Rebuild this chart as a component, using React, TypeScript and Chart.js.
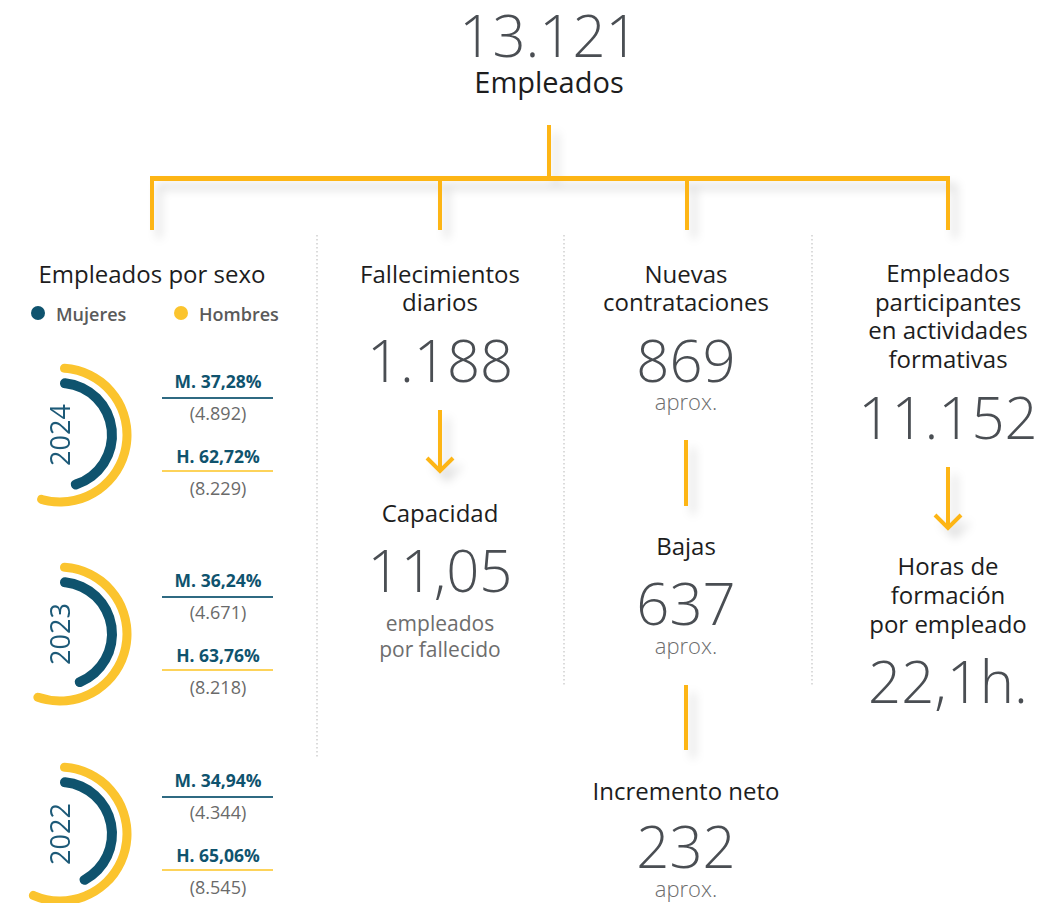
import React, { useEffect, useRef } from 'react';
import { Chart, registerables } from 'chart.js';
Chart.register(...registerables);

// ---- Data ----
const YEARS = ['2024', '2023', '2022'];
const MUJERES_PCT = [37.28, 36.24, 34.94];
const HOMBRES_PCT = [62.72, 63.76, 65.06];
const MUJERES_N = ['4.892', '4.671', '4.344'];
const HOMBRES_N = ['8.229', '8.218', '8.545'];
const MUJERES_DIAL_MAX = 80;
const HOMBRES_DIAL_MAX = 113;

const TOTAL_EMPLEADOS = '13.121';
const FALLECIMIENTOS = '1.188';
const CAPACIDAD = '11,05';
const NUEVAS = '869';
const BAJAS = '637';
const INCREMENTO = '232';
const PARTICIPANTES = '11.152';
const HORAS = '22,1h.';

// ---- Styles ----
const FONT = "'Open Sans', 'Noto Sans', sans-serif";
const TEAL = '#0f536e';
const DONUT_YELLOW = '#fbc42e';
const LINE_YELLOW = '#fdb515';
const LABEL = '#1d1d1d';
const NUM = '#4a4e53';
const SUB = '#6d6d6d';
const YEAR_CY = [435, 634, 834];

const fmtPct = (v: number) => v.toFixed(2).replace('.', ',') + '%';

function T({ x, base, size, weight = 400, color = LABEL, children, w = 360, align = 'center', lhf = 1.15 }: any) {
  const lh = Math.round(size * lhf);
  const top = base - (lh / 2 + 0.388 * size);
  const left = align === 'center' ? x - w / 2 : x;
  return (
    <div
      style={{
        position: 'absolute', left, top, width: w, textAlign: align,
        fontSize: size, lineHeight: lh + 'px', fontWeight: weight, color, whiteSpace: 'nowrap',
      }}
    >
      {children}
    </div>
  );
}

function Big({ x, base, children }: any) {
  return (
    <T x={x} base={base} size={58} weight={300} color={NUM} lhf={0.95}>
      {children}
    </T>
  );
}

function Donut({ idx, cy }: { idx: number; cy: number }) {
  const ref = useRef<HTMLCanvasElement | null>(null);
  useEffect(() => {
    const m = MUJERES_PCT[idx];
    const h = HOMBRES_PCT[idx];
    const chart = new Chart(ref.current as HTMLCanvasElement, {
      type: 'doughnut',
      data: {
        labels: ['valor', 'resto'],
        datasets: [
          {
            label: 'Hombres', data: [h, HOMBRES_DIAL_MAX - h],
            backgroundColor: [DONUT_YELLOW, 'rgba(0,0,0,0)'], weight: 9, borderWidth: 0, borderRadius: 6,
          } as any,
          {
            label: 'sep', data: [1], backgroundColor: ['rgba(0,0,0,0)'], weight: 5.5, borderWidth: 0,
          } as any,
          {
            label: 'Mujeres', data: [m, MUJERES_DIAL_MAX - m],
            backgroundColor: [TEAL, 'rgba(0,0,0,0)'], weight: 10, borderWidth: 0, borderRadius: 6,
          } as any,
        ],
      },
      options: {
        responsive: false,
        animation: false,
        devicePixelRatio: 1,
        radius: 71.5,
        cutout: '65.73%',
        rotation: 0,
        circumference: 360,
        events: [],
        layout: { padding: 0 },
        plugins: { legend: { display: false }, tooltip: { enabled: false } },
      } as any,
    });
    return () => chart.destroy();
  }, [idx]);
  return (
    <canvas
      ref={ref}
      width={150}
      height={150}
      style={{ position: 'absolute', left: -15, top: cy - 75, width: 150, height: 150 }}
    />
  );
}

function YearBlock({ idx }: { idx: number }) {
  const cy = YEAR_CY[idx];
  return (
    <>
      <Donut idx={idx} cy={cy} />
      <div
        style={{
          position: 'absolute', left: 60 - 50, top: cy - 17, width: 100, height: 34,
          textAlign: 'center', fontSize: 27, lineHeight: '34px', color: '#1d5a78',
          transform: 'rotate(-90deg)',
        }}
      >
        {YEARS[idx]}
      </div>
      <T x={218} base={cy - 47} size={17.5} weight={700} color={TEAL} w={140}>
        M. {fmtPct(MUJERES_PCT[idx])}
      </T>
      <div style={{ position: 'absolute', left: 162, top: cy - 38, width: 111, height: 1.5, background: '#2f6a82' }} />
      <T x={218} base={cy - 15} size={18} weight={400} color="#6a6a6a" w={140}>
        ({MUJERES_N[idx]})
      </T>
      <T x={218} base={cy + 28} size={17.5} weight={700} color={TEAL} w={140}>
        H. {fmtPct(HOMBRES_PCT[idx])}
      </T>
      <div style={{ position: 'absolute', left: 162, top: cy + 35, width: 111, height: 1.5, background: '#fdd35a' }} />
      <T x={218} base={cy + 60} size={18} weight={400} color="#6a6a6a" w={140}>
        ({HOMBRES_N[idx]})
      </T>
    </>
  );
}

function Connectors() {
  const rects = [
    [547, 125, 4, 54],
    [150, 176, 800, 5],
    [150, 176, 4, 54],
    [438, 176, 4, 54],
    [685, 176, 4, 54],
    [946, 176, 4, 54],
    [684, 440, 4, 66],
    [684, 685, 4, 65],
  ];
  return (
    <svg
      width={1043}
      height={903}
      style={{ position: 'absolute', left: 0, top: 0 }}
    >
      <g stroke="#cfcfcf" strokeWidth={1.5} strokeDasharray="1.5 2.5">
        <line x1={317} y1={235} x2={317} y2={757} />
        <line x1={564} y1={235} x2={564} y2={686} />
        <line x1={812} y1={235} x2={812} y2={686} />
      </g>
      <g style={{ filter: 'drop-shadow(7px 8px 5px rgba(0,0,0,0.15))' }}>
        {rects.map((r, i) => (
          <rect key={i} x={r[0]} y={r[1]} width={r[2]} height={r[3]} fill={LINE_YELLOW} />
        ))}
        <g stroke={LINE_YELLOW} strokeWidth={4} fill="none">
          <line x1={440} y1={410} x2={440} y2={471} />
          <polyline points="427,458 440,471 453,458" />
          <line x1={948} y1={467} x2={948} y2={528} />
          <polyline points="935,515 948,528 961,515" />
        </g>
      </g>
    </svg>
  );
}

export default function App() {
  return (
    <div
      style={{
        position: 'absolute', left: 0, top: 0, width: 1043, height: 903, overflow: 'hidden',
        background: '#ffffff', fontFamily: FONT,
      }}
    >
      <Connectors />

      {/* Title */}
      <Big x={549} base={57}>{TOTAL_EMPLEADOS}</Big>
      <T x={549} base={93} size={29}>Empleados</T>

      {/* Column 1 */}
      <T x={152} base={283} size={24} w={300}>Empleados por sexo</T>
      <div style={{ position: 'absolute', left: 31, top: 306, width: 14, height: 14, borderRadius: 7, background: TEAL }} />
      <T x={56} base={321} size={18} weight={600} color="#5a5a5a" w={100} align="left">Mujeres</T>
      <div style={{ position: 'absolute', left: 174, top: 306, width: 14, height: 14, borderRadius: 7, background: DONUT_YELLOW }} />
      <T x={199} base={321} size={18} weight={600} color="#5a5a5a" w={100} align="left">Hombres</T>
      {YEARS.map((_, i) => (
        <YearBlock key={i} idx={i} />
      ))}

      {/* Column 2 */}
      <T x={440} base={283} size={24}>Fallecimientos</T>
      <T x={440} base={311} size={24}>diarios</T>
      <Big x={440} base={382}>{FALLECIMIENTOS}</Big>
      <T x={440} base={522} size={24}>Capacidad</T>
      <Big x={440} base={592}>{CAPACIDAD}</Big>
      <T x={440} base={632} size={21} weight={400} color={SUB} lhf={1.1}>empleados</T>
      <T x={440} base={658} size={21} weight={400} color={SUB} lhf={1.1}>por fallecido</T>

      {/* Column 3 */}
      <T x={686} base={283} size={24}>Nuevas</T>
      <T x={686} base={311} size={24}>contrataciones</T>
      <Big x={686} base={382}>{NUEVAS}</Big>
      <T x={686} base={410} size={22} weight={300} color={SUB} lhf={1}>aprox.</T>
      <T x={686} base={555} size={24}>Bajas</T>
      <Big x={686} base={625}>{BAJAS}</Big>
      <T x={686} base={654} size={22} weight={300} color={SUB} lhf={1}>aprox.</T>
      <T x={686} base={800} size={24}>Incremento neto</T>
      <Big x={686} base={868}>{INCREMENTO}</Big>
      <T x={686} base={897} size={22} weight={300} color={SUB} lhf={1}>aprox.</T>

      {/* Column 4 */}
      <T x={948} base={282} size={24}>Empleados</T>
      <T x={948} base={311} size={24}>participantes</T>
      <T x={948} base={339} size={24}>en actividades</T>
      <T x={948} base={368} size={24}>formativas</T>
      <Big x={948} base={439}>{PARTICIPANTES}</Big>
      <T x={948} base={575} size={24}>Horas de</T>
      <T x={948} base={604} size={24}>formación</T>
      <T x={948} base={633} size={24}>por empleado</T>
      <Big x={948} base={703}>{HORAS}</Big>
    </div>
  );
}
